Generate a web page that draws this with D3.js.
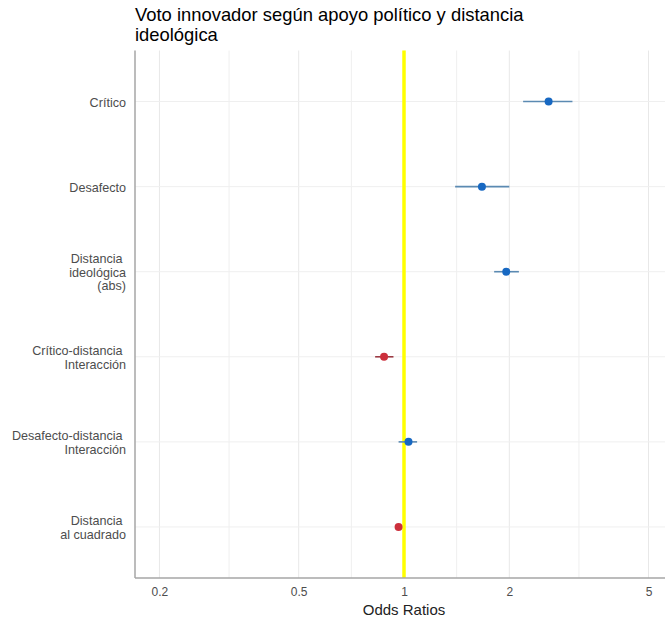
<!DOCTYPE html>
<html>
<head>
<meta charset="utf-8">
<script src="https://cdn.jsdelivr.net/npm/d3@7"></script>
<style>
  body { margin: 0; background: #fff; }
  svg { display: block; font-family: "Liberation Sans", Arial, sans-serif; }
</style>
</head>
<body>
<div id="chart"></div>
<script>
// terms, top to bottom
const terms = [
  'Crítico',
  'Desafecto',
  'Distancia \nideológica\n(abs)',
  'Crítico-distancia \nInteracción',
  'Desafecto-distancia \nInteracción',
  'Distancia \nal cuadrado'
];
const estimates = [2.59, 1.67, 1.96, 0.877, 1.03, 0.965];
const ciLow     = [2.19, 1.40, 1.81, 0.827, 0.965, 0.950];
const ciHigh    = [3.03, 2.00, 2.13, 0.933, 1.09, 0.980];
const xTicks = [0.2, 0.5, 1, 2, 5];
const minorTicks = [Math.sqrt(0.1), Math.sqrt(0.5), Math.sqrt(2), Math.sqrt(10)];

const width = 665, height = 622;
const panel = { left: 135, right: 673, top: 50.5, bottom: 578 };

const svg = d3.select('#chart').append('svg')
  .attr('width', width)
  .attr('height', height);

// log scale, 5% expansion around 0.2..5
const lo = Math.log10(0.2), hi = Math.log10(5);
const pad = (hi - lo) * 0.05;
const x = d3.scaleLog()
  .domain([Math.pow(10, lo - pad), Math.pow(10, hi + pad)])
  .range([panel.left, panel.right]);

const y = d3.scalePoint()
  .domain(terms)
  .range([panel.top, panel.bottom])
  .padding(0.6);

const grid = svg.append('g');

grid.selectAll('line.minor')
  .data(minorTicks)
  .join('line')
  .attr('x1', d => x(d)).attr('x2', d => x(d))
  .attr('y1', panel.top).attr('y2', panel.bottom)
  .attr('stroke', '#efefef').attr('stroke-width', 1);

grid.selectAll('line.major')
  .data(xTicks)
  .join('line')
  .attr('x1', d => x(d)).attr('x2', d => x(d))
  .attr('y1', panel.top).attr('y2', panel.bottom)
  .attr('stroke', '#e8e8e8').attr('stroke-width', 1);

grid.selectAll('line.h')
  .data(terms)
  .join('line')
  .attr('x1', panel.left).attr('x2', panel.right)
  .attr('y1', d => y(d)).attr('y2', d => y(d))
  .attr('stroke', '#efefef').attr('stroke-width', 1);

// reference line at OR = 1
svg.append('line')
  .attr('x1', x(1)).attr('x2', x(1))
  .attr('y1', panel.top).attr('y2', panel.bottom)
  .attr('stroke', '#ffff00').attr('stroke-width', 3.5);

// axes
const xAxis = svg.append('g')
  .attr('transform', `translate(0,${panel.bottom})`)
  .call(d3.axisBottom(x).tickValues(xTicks).tickFormat(d3.format('')).tickSize(0).tickPadding(9));
xAxis.select('.domain').remove();
xAxis.selectAll('text')
  .attr('font-size', 12)
  .attr('font-family', '"Liberation Sans", Arial, sans-serif')
  .attr('fill', '#4d4d4d');

const yAxis = svg.append('g')
  .attr('transform', `translate(${panel.left},0)`)
  .call(d3.axisLeft(y).tickSize(0).tickPadding(9));
yAxis.select('.domain').remove();
yAxis.selectAll('text')
  .attr('font-size', 12.6)
  .attr('font-family', '"Liberation Sans", Arial, sans-serif')
  .attr('fill', '#4d4d4d')
  .attr('dy', null)
  .style('white-space', 'pre')
  .each(function (d) {
    const lines = d.split('\n');
    const t = d3.select(this).text(null);
    const lh = 13.5;
    lines.forEach((s, i) => {
      t.append('tspan')
        .attr('x', -9)
        .attr('y', (i - (lines.length - 1) / 2) * lh + 4.5)
        .text(s);
    });
  });

// axis lines
svg.append('line')
  .attr('x1', panel.left).attr('x2', panel.left)
  .attr('y1', panel.top).attr('y2', panel.bottom)
  .attr('stroke', '#a6a6a6').attr('stroke-width', 1.5);
svg.append('line')
  .attr('x1', panel.left).attr('x2', panel.right)
  .attr('y1', panel.bottom).attr('y2', panel.bottom)
  .attr('stroke', '#a6a6a6').attr('stroke-width', 1.5);

// estimates
const rows = terms.map((t, i) => ({ term: t, est: estimates[i], lo: ciLow[i], hi: ciHigh[i] }));
const pointColor = d => d.est > 1 ? '#1768c2' : '#cc2f3c';
const lineColor = d => d.est > 1 ? '#5b8ab2' : '#9b3b44';

svg.append('g')
  .selectAll('line')
  .data(rows)
  .join('line')
  .attr('x1', d => x(d.lo)).attr('x2', d => x(d.hi))
  .attr('y1', d => y(d.term)).attr('y2', d => y(d.term))
  .attr('stroke', lineColor)
  .attr('stroke-width', 1.6);

svg.append('g')
  .selectAll('circle')
  .data(rows)
  .join('circle')
  .attr('cx', d => x(d.est))
  .attr('cy', d => y(d.term))
  .attr('r', 4)
  .attr('fill', pointColor);

// titles
const title = svg.append('text')
  .attr('x', panel.left)
  .attr('font-size', 18.4)
  .attr('fill', '#000');
title.append('tspan').attr('x', panel.left).attr('y', 21).text('Voto innovador según apoyo político y distancia');
title.append('tspan').attr('x', panel.left).attr('y', 41).text('ideológica');

svg.append('text')
  .attr('x', (panel.left + panel.right) / 2)
  .attr('y', 615)
  .attr('text-anchor', 'middle')
  .attr('font-size', 15)
  .attr('fill', '#222')
  .text('Odds Ratios');
</script>
</body>
</html>
